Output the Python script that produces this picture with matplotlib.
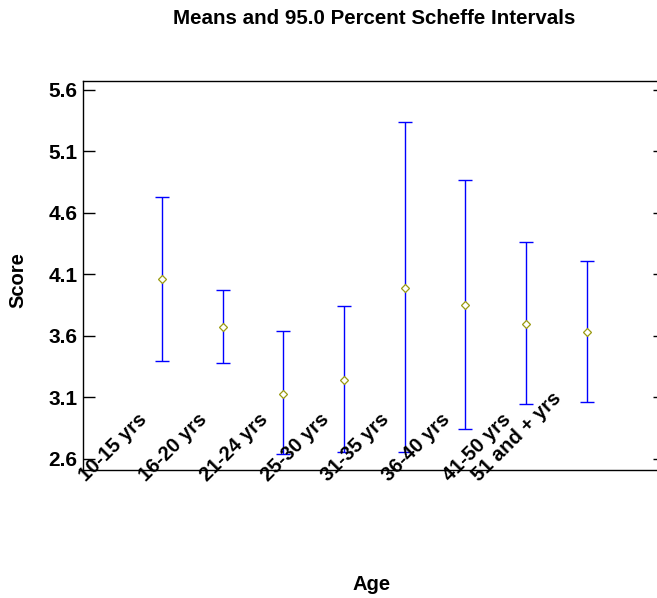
import matplotlib
matplotlib.use("Agg")
import matplotlib.pyplot as plt
import numpy as np

plt.rcParams['font.family'] = ['Liberation Sans', 'DejaVu Sans']
plt.rcParams['font.weight'] = 'bold'

# Scheffe intervals by age group
age_groups = ['10-15 yrs', '16-20 yrs', '21-24 yrs', '25-30 yrs',
              '31-35 yrs', '36-40 yrs', '41-50 yrs', '51 and + yrs']
means = [4.06, 3.67, 3.13, 3.245, 3.99, 3.85, 3.70, 3.63]
lower = [3.40, 3.38, 2.64, 2.66, 2.66, 2.84, 3.045, 3.065]
upper = [4.73, 3.975, 3.64, 3.845, 5.34, 4.865, 4.36, 4.21]
yticks = [2.6, 3.1, 3.6, 4.1, 4.6, 5.1, 5.6]

fig = plt.figure(figsize=(6.57, 5.98), dpi=100)
ax = fig.add_axes([83 / 657, 1 - 470 / 598, (665 - 83) / 657, (470 - 81) / 598])

x = np.arange(len(age_groups))
means = np.array(means)
lower = np.array(lower)
upper = np.array(upper)

# interval bars
ax.errorbar(x, means, yerr=[means - lower, upper - means], fmt='none',
            ecolor='#0000ff', elinewidth=1.0, capsize=5, capthick=1.0, zorder=2)
# means
ax.plot(x, means, linestyle='none', marker='D', markersize=4.5,
        markerfacecolor='white', markeredgecolor='#9a9a10', markeredgewidth=0.9, zorder=3)

ax.set_xlim(-1.3, 8.29)
ax.set_ylim(2.5106, 5.671)

ax.set_yticks(yticks)
ax.set_yticklabels([f'{t:.1f}' for t in yticks], fontsize=15, fontweight='bold')
ax.tick_params(axis='y', direction='in', length=8.6, width=1.0, pad=4,
               left=True, right=True, labelright=False)
ax.set_xticks([])

for side in ['left', 'right', 'top', 'bottom']:
    ax.spines[side].set_linewidth(1.0)

# rotated category labels sitting on the bottom axis
for i, lab in enumerate(age_groups):
    dx = -76 if i < len(age_groups) - 1 else -108
    ax.annotate(lab, xy=(i, 0), xycoords=('data', 'axes fraction'),
                xytext=(dx, -12), textcoords='offset pixels',
                rotation=45, ha='left', va='baseline', rotation_mode='anchor',
                fontsize=14.5, fontweight='bold', annotation_clip=False)

fig.text(374 / 657, 1 - 18 / 598, 'Means and 95.0 Percent Scheffe Intervals',
         ha='center', va='center', fontsize=14.8, fontweight='bold')
fig.text(18 / 657, 1 - 280 / 598, 'Score', rotation=90,
         ha='center', va='center', fontsize=14.5, fontweight='bold')
fig.text(372 / 657, 1 - 585 / 598, 'Age',
         ha='center', va='center', fontsize=14.5, fontweight='bold')

plt.savefig('out.png', dpi=100)
